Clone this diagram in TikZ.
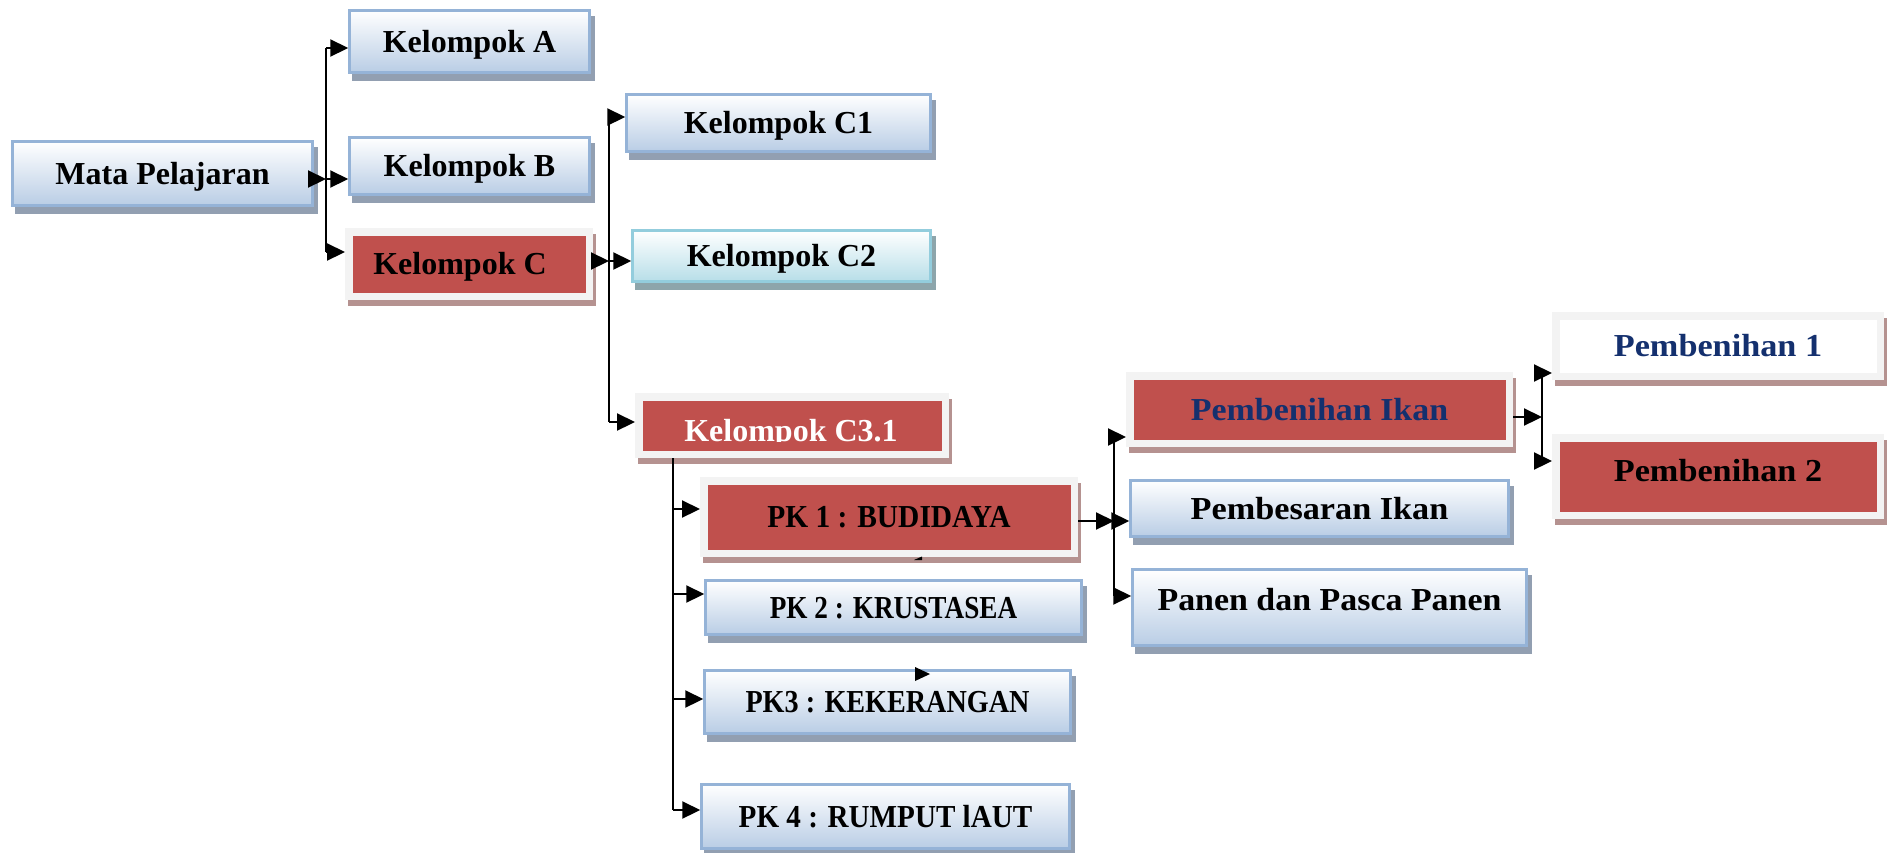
\documentclass[tikz,border=0pt]{standalone}
\usepackage{graphicx}
\usepackage{fontspec}
\setmainfont{Liberation Serif}
\usetikzlibrary{arrows.meta,backgrounds}
\definecolor{bborder}{HTML}{95B3D7}
\definecolor{bbottom}{HTML}{B9CDE5}
\definecolor{bshadow}{HTML}{929FB1}
\definecolor{cborder}{HTML}{93CDDD}
\definecolor{cbottom}{HTML}{B7DEE8}
\definecolor{cshadow}{HTML}{8DA5AB}
\definecolor{redfill}{HTML}{C0504D}
\definecolor{framegray}{HTML}{F3F3F3}
\definecolor{rshadow}{HTML}{B59290}
\definecolor{navy}{HTML}{14306E}
\newcommand{\sx}[2]{\scalebox{#1}[1]{#2}}
\begin{document}
\begin{tikzpicture}[x=1pt,y=-1pt,
  base/.style={font=\fontsize{32}{38}\selectfont\bfseries, text height=21pt, text depth=0pt, inner sep=0pt, align=center},
  bluebox/.style={base, draw=bborder, line width=2.5pt, top color=white, bottom color=bbottom},
  cyanbox/.style={base, draw=cborder, line width=2.5pt, top color=white, bottom color=cbottom},
  redbox/.style={base, fill=redfill, draw=framegray, line width=7.5pt},
  whitebox/.style={base, fill=white, draw=framegray, line width=7.5pt},
  ln/.style={line width=2.2pt},
  arr/.style={line width=2.2pt, -{Triangle[length=18pt,width=17pt]}}]
\useasboundingbox (0,0) rectangle (1890,852);

% nodes
\node[bluebox, minimum width=300pt, minimum height=64pt] (Mata) at (162.5,173.5) {Mata Pelajaran};
\node[bluebox, minimum width=240pt, minimum height=62pt] (A) at (469.5,41.5) {Kelompok A};
\node[bluebox, minimum width=240pt, minimum height=57pt] (B) at (469.5,166) {Kelompok B};
\node[redbox, minimum width=240.5pt, minimum height=64.5pt] (C) at (469,264) {\kern-18pt Kelompok C};
\node[bluebox, minimum width=304pt, minimum height=57pt] (C1) at (778.5,123) {Kelompok C1};
\node[cyanbox, minimum width=298pt, minimum height=51pt] (C2) at (781.5,256) {Kelompok C2};
\node[redbox, minimum width=306.5pt, minimum height=57.5pt] (C31) at (792,425.5) {};
\begin{scope}
  \clip (C31.north west) rectangle (C31.east |- 0,441);
  \node[base, text=white, anchor=base] (C31t) at (791,441) {Kelompok C3.1};
\end{scope}
\node[redbox, minimum width=370.5pt, minimum height=72.5pt] (PK1) at (889,517) {\sx{0.92}{PK 1 : BUDIDAYA}};
\node[bluebox, minimum width=376pt, minimum height=54pt] (PK2) at (893.5,607.5) {\sx{0.85}{PK 2 : KRUSTASEA}};
\node[bluebox, minimum width=366pt, minimum height=63pt] (PK3) at (887.5,702) {\sx{0.88}{PK3 : KEKERANGAN}};
\node[bluebox, minimum width=368pt, minimum height=64pt] (PK4) at (885.5,816.5) {\sx{0.91}{PK 4 : RUMPUT lAUT}};
\node[redbox, text=navy, minimum width=379.5pt, minimum height=67.5pt] (PI) at (1319.5,409.5) {\sx{1.06}{Pembenihan Ikan}};
\node[bluebox, minimum width=378pt, minimum height=56pt] (Pbs) at (1319.5,508.5) {\sx{1.07}{Pembesaran Ikan}};
\node[bluebox, text depth=15pt, minimum width=394pt, minimum height=76pt] (Pan) at (1329.5,607.5) {\sx{1.06}{Panen dan Pasca Panen}};
\node[whitebox, text=navy, minimum width=324.5pt, minimum height=60.5pt] (P1) at (1718,346) {\sx{1.07}{Pembenihan 1}};
\node[redbox, text depth=12pt, minimum width=324.5pt, minimum height=77.5pt] (P2) at (1718,476.5) {\sx{1.07}{Pembenihan 2}};

% shadows and background
\begin{scope}[on background layer]
  \fill[white] (0,0) rectangle (1890,852);
  \foreach \n in {Mata,A,B,C1,PK2,PK3,PK4,Pbs,Pan}
    {\fill[bshadow] ([shift={(4pt,-7pt)}]\n.south west) rectangle ([shift={(4pt,-7pt)}]\n.north east);}
  \fill[cshadow] ([shift={(4pt,-7pt)}]C2.south west) rectangle ([shift={(4pt,-7pt)}]C2.north east);
  \foreach \n in {C,C31,PK1,PI,P1,P2}
    {\fill[rshadow] ([shift={(3pt,-6pt)}]\n.south west) rectangle ([shift={(3pt,-6pt)}]\n.north east);}
\end{scope}

% level 1 connectors
\coordinate (jM) at (326,179);
\coordinate (v1t) at (326,48);
\coordinate (v1b) at (326,252);
\draw[arr] (Mata.east |- jM) -- (jM);
\draw[ln] (v1t) -- (v1b);
\draw[arr] (v1t) -- (v1t -| A.west);
\draw[arr] (jM) -- (jM -| B.west);
\draw[arr] (v1b) -- (v1b -| C.west);

% level 2 connectors
\coordinate (jC) at (609,261);
\coordinate (v2t) at (609,117);
\coordinate (v2b) at (609,422);
\draw[arr] (C.east |- jC) -- (jC);
\draw[ln] (v2t) -- (v2b);
\draw[arr] (v2t) -- (v2t -| C1.west);
\draw[arr] (jC) -- (jC -| C2.west);
\draw[arr] (v2b) -- (v2b -| C31.west);

% level 3 connectors
\coordinate (p1) at (673,509);
\coordinate (p2) at (673,594);
\coordinate (p3) at (673,699);
\coordinate (v3b) at (673,810);
\draw[ln] (v3b |- C31.south) -- (v3b);
\draw[arr] (p1) -- (p1 -| PK1.west);
\draw[arr] (p2) -- (p2 -| PK2.west);
\draw[arr] (p3) -- (p3 -| PK3.west);
\draw[arr] (v3b) -- (v3b -| PK4.west);

% level 4 connectors
\coordinate (jP) at (1114,521);
\coordinate (v4t) at (1114,437);
\coordinate (v4b) at (1114,596);
\draw[arr] (PK1.east |- jP) -- (jP);
\draw[ln] (v4t) -- (v4b);
\draw[arr] (v4t) -- (v4t -| PI.west);
\draw[arr] (jP) -- (jP -| Pbs.west);
\draw[arr] (v4b) -- (v4b -| Pan.west);

% level 5 connectors
\coordinate (jI) at (1542,417);
\coordinate (v5t) at (1542,373);
\coordinate (v5b) at (1542,461);
\draw[arr] (PI.east |- jI) -- (jI);
\draw[ln] (v5t) -- (v5b);
\draw[arr] (v5t) -- (v5t -| P1.west);
\draw[arr] (v5b) -- (v5b -| P2.west);

% stray arrowheads
\fill (915,667) -- (930,674) -- (915,681) -- cycle;
\fill (914,560) -- (922,556.5) -- (922,560) -- cycle;
\end{tikzpicture}
\end{document}
